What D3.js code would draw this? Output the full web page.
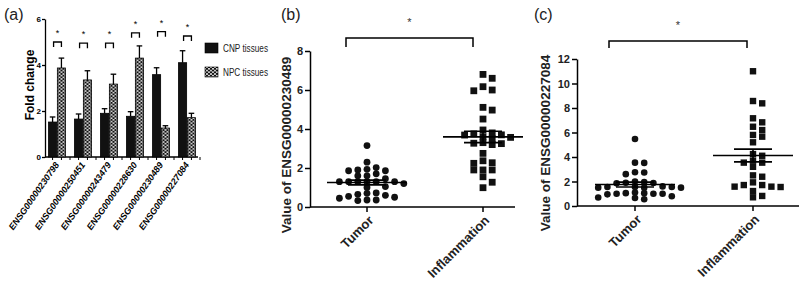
<!DOCTYPE html>
<html>
<head>
<meta charset="utf-8">
<script src="https://cdn.jsdelivr.net/npm/d3@7"></script>
<style>
  body { margin: 0; background: #fff; }
  svg { display: block; font-family: "Liberation Sans", Arial, sans-serif; }
</style>
</head>
<body>
<script>
// ---- panel (a) data ----
const genes = ["ENSG00000230798", "ENSG00000250451", "ENSG00000243479",
               "ENSG00000228630", "ENSG00000230489", "ENSG00000227084"];
const tissues = ["CNP tissues", "NPC tissues"];
const cnpFold = [1.52, 1.65, 1.9, 1.77, 3.58, 4.1];
const cnpSem  = [0.22, 0.22, 0.2, 0.2, 0.3, 0.52];
const npcFold = [3.87, 3.35, 3.17, 4.3, 1.26, 1.71];
const npcSem  = [0.43, 0.4, 0.43, 0.53, 0.1, 0.19];
const sigLevel = [5.0, 4.95, 4.95, 5.4, 5.45, 5.26];
const foldTicks = [0, 2, 4, 6];

// ---- panels (b) and (c) data ----
const groups = ["Tumor", "Inflammation"];
const tumorB = [3.15, 2.3, 2.02, 1.93, 1.9, 1.86, 1.86, 1.7, 1.6, 1.6, 1.45,
                1.3, 1.3, 1.3, 1.3, 1.3, 1.3, 1.2, 1.05, 1.0,
                0.72, 0.7, 0.65, 0.6, 0.55, 0.5, 0.45, 0.36, 0.33, 0.36];
const inflamB = [6.8, 6.6, 6.17, 5.96, 6.0, 5.11, 4.97, 4.51,
                 3.95, 3.8, 3.75, 3.7, 3.69, 3.6, 3.57, 3.5, 3.3, 3.27, 3.25, 3.2,
                 2.75, 2.37, 2.24, 2.27, 1.9, 1.9, 1.9, 1.55, 1.27, 0.99];
const tumorC = [5.47, 3.54, 3.52, 2.76, 2.74, 2.6, 2.0, 1.95, 1.9, 1.88, 1.85,
                1.6, 1.55, 1.55, 1.5, 1.5, 1.5, 1.55, 1.1, 1.05, 1.0, 1.0, 1.05,
                0.95, 1.0, 0.7, 0.55, 0.65, 0.8];
const inflamC = [11.0, 8.57, 8.38, 7.16, 6.83, 6.47, 6.2, 5.8, 5.66, 5.2,
                 4.24, 4.1, 3.7, 3.54, 3.54, 3.2, 2.5, 2.39, 1.93, 1.71, 1.71,
                 1.58, 1.58, 1.55, 1.22, 0.82, 0.71];
const ticksB = [0, 2, 4, 6, 8];
const ticksC = [0, 2, 4, 6, 8, 10, 12];

const svg = d3.select("body").append("svg")
  .attr("width", 799).attr("height", 284);

const defs = svg.append("defs");
const pat = defs.append("pattern").attr("id", "chk")
  .attr("patternUnits", "userSpaceOnUse").attr("width", 4).attr("height", 3.4);
pat.append("rect").attr("width", 4).attr("height", 3.4).attr("fill", "#111");
pat.append("circle").attr("cx", 1).attr("cy", 0.85).attr("r", 0.95).attr("fill", "#fff");
pat.append("circle").attr("cx", 3).attr("cy", 2.55).attr("r", 0.95).attr("fill", "#fff");

function panelLetter(txt, x, y) {
  svg.append("text").attr("x", x).attr("y", y)
    .attr("font-size", 16).attr("fill", "#222").text(txt);
}

// ================= panel (a) =================
(function () {
  const x0 = d3.scaleBand().domain(genes).range([44, 200])
    .paddingInner(0.346).paddingOuter(0.173);
  const x1 = d3.scaleBand().domain(tissues).range([0, x0.bandwidth()]).paddingInner(0.08);
  const y = d3.scaleLinear().domain([0, 6]).range([157, 19]);
  const g = svg.append("g");

  panelLetter("(a)", 4, 20);

  const yAxis = g.append("g").attr("transform", "translate(45,0)")
    .call(d3.axisLeft(y).tickValues(foldTicks).tickFormat(d3.format("d"))
      .tickSize(3).tickSizeOuter(0).tickPadding(1));
  yAxis.selectAll("text").attr("font-size", 8).attr("font-weight", "bold");
  yAxis.selectAll("path,line").attr("stroke-width", 1.3);

  g.append("text")
    .attr("transform", `translate(34,${(y(0) + y(6)) / 2 - 3}) rotate(-90)`)
    .attr("text-anchor", "middle").attr("font-size", 12).attr("font-weight", "bold")
    .text("Fold change");

  // x axis line + ticks
  g.append("line").attr("x1", 45).attr("x2", 198).attr("y1", y(0)).attr("y2", y(0))
    .attr("stroke", "#000").attr("stroke-width", 1.3);
  const tickXs = [];
  genes.forEach(gn => {
    tissues.forEach(t => tickXs.push(x0(gn) + x1(t) + x1.bandwidth() / 2));
    tickXs.push(x0(gn) + x0.bandwidth() + x0.step() * x0.paddingInner() / 2);
  });
  g.selectAll(".xt").data(tickXs).join("line")
    .attr("x1", d => d).attr("x2", d => d).attr("y1", y(0)).attr("y2", y(0) + 3)
    .attr("stroke", "#000").attr("stroke-width", 1);

  const rows = genes.map((gn, i) => ({
    gene: gn,
    bars: [
      { key: tissues[0], v: cnpFold[i], e: cnpSem[i] },
      { key: tissues[1], v: npcFold[i], e: npcSem[i] }
    ],
    sig: sigLevel[i]
  }));

  const grp = g.selectAll(".grp").data(rows).join("g")
    .attr("transform", d => `translate(${x0(d.gene)},0)`);

  grp.selectAll(".err").data(d => d.bars).join("g").each(function (b) {
    const cx = x1(b.key) + x1.bandwidth() / 2;
    const s = d3.select(this);
    s.append("line").attr("x1", cx).attr("x2", cx).attr("y1", y(b.v)).attr("y2", y(b.v + b.e))
      .attr("stroke", "#000").attr("stroke-width", 1.3);
    s.append("line").attr("x1", cx - 2.8).attr("x2", cx + 2.8)
      .attr("y1", y(b.v + b.e)).attr("y2", y(b.v + b.e))
      .attr("stroke", "#000").attr("stroke-width", 1.3);
  });

  grp.selectAll("rect").data(d => d.bars).join("rect")
    .attr("x", b => x1(b.key)).attr("width", x1.bandwidth())
    .attr("y", b => y(b.v)).attr("height", b => y(0) - y(b.v))
    .attr("fill", (b, i) => i === 0 ? "#111" : "url(#chk)")
    .attr("stroke", "#000").attr("stroke-width", 0.8);

  // significance brackets
  grp.each(function (d) {
    const s = d3.select(this);
    const xa = x1(tissues[0]) + x1.bandwidth() / 2 + 1;
    const xb = x1(tissues[1]) + x1.bandwidth() / 2;
    const yt = y(d.sig);
    s.append("path").attr("d", `M${xa},${yt + 5}V${yt}H${xb}V${yt + 5}`)
      .attr("fill", "none").attr("stroke", "#000").attr("stroke-width", 1.3);
    s.append("text").attr("x", (xa + xb) / 2).attr("y", yt - 6)
      .attr("text-anchor", "middle").attr("font-size", 9).text("*");
  });

  // rotated gene labels
  g.selectAll(".gl").data(genes).join("text")
    .attr("transform", d => `translate(${x0(d) + x0.bandwidth() / 2},${y(0) + 6}) rotate(-55)`)
    .attr("text-anchor", "end").attr("dy", "0.35em")
    .attr("font-size", 9).attr("font-weight", "bold").attr("font-style", "italic")
    .text(d => d);

  // legend
  const lg = g.append("g");
  tissues.forEach((t, i) => {
    lg.append("rect").attr("x", 205).attr("y", 43 + i * 24).attr("width", 13).attr("height", 10)
      .attr("fill", i === 0 ? "#111" : "url(#chk)").attr("stroke", "#000").attr("stroke-width", 0.6);
    lg.append("text").attr("x", 223).attr("y", 48 + i * 24).attr("dy", "0.35em")
      .attr("font-size", 10.5).attr("fill", "#222")
      .attr("textLength", 45).attr("lengthAdjust", "spacingAndGlyphs").text(t);
  });
})();

// ================= panels (b), (c) =================
// Prism-like scatter: each point goes to the column nearest the centre
// where no other point sits closer than minDy vertically
function swarm(values, y, cx, step, minDy) {
  const cols = new Map();
  const out = [];
  values.slice().sort((a, b) => b - a).forEach(v => {
    const py = y(v);
    for (let k = 0; ; k++) {
      const c = k === 0 ? 0 : (k % 2 ? 1 : -1) * Math.ceil(k / 2);
      const taken = cols.get(c) || [];
      if (taken.every(q => Math.abs(q - py) >= minDy)) {
        taken.push(py);
        cols.set(c, taken);
        out.push({ x: cx + c * step, y: py, v });
        break;
      }
    }
  });
  return out;
}

function dotPanel(o) {
  const g = svg.append("g");
  const y = d3.scaleLinear().domain([0, o.max]).range([o.bottom, o.top]);
  const x = d3.scalePoint().domain(groups).range(o.centers);

  panelLetter(o.letter, o.letterX, 20);

  const yAxis = g.append("g").attr("transform", `translate(${o.axisX},0)`)
    .call(d3.axisLeft(y).tickValues(o.ticks).tickSize(5).tickSizeOuter(0).tickPadding(2));
  yAxis.selectAll("text").attr("font-size", 11).attr("font-weight", "bold").attr("fill", "#222");
  yAxis.selectAll("path,line").attr("stroke-width", 1.5);

  g.append("text")
    .attr("transform", `translate(${o.labelX},${o.labelY}) rotate(-90)`)
    .attr("text-anchor", "middle").attr("font-size", 13.5).attr("font-weight", "bold")
    .attr("fill", "#222").text(o.ylabel);

  g.append("line").attr("x1", o.axisX).attr("x2", o.axisEnd).attr("y1", o.bottom).attr("y2", o.bottom)
    .attr("stroke", "#000").attr("stroke-width", 1.5);
  g.selectAll(".xt").data(groups).join("line")
    .attr("x1", d => x(d)).attr("x2", d => x(d)).attr("y1", o.bottom).attr("y2", o.bottom + 5)
    .attr("stroke", "#000").attr("stroke-width", 1.5);
  g.selectAll(".xl").data(groups).join("text")
    .attr("transform", d => `translate(${x(d) + 4},${o.bottom + 11}) rotate(-45)`)
    .attr("text-anchor", "end").attr("dy", "0.35em")
    .attr("font-size", 13).attr("font-weight", "bold").attr("fill", "#222")
    .text(d => d);

  // tumor: circles
  const tp = swarm(o.tumor, y, x(groups[0]), 9.2, 5.5);
  g.selectAll(".tp").data(tp).join("circle")
    .attr("cx", d => d.x).attr("cy", d => d.y).attr("r", o.r).attr("fill", "#111");
  // inflammation: squares
  const ip = swarm(o.inflam, y, x(groups[1]), 9.2, 5.5);
  g.selectAll(".ip").data(ip).join("rect")
    .attr("x", d => d.x - o.sq / 2).attr("y", d => d.y - o.sq / 2)
    .attr("width", o.sq).attr("height", o.sq).attr("fill", "#111");

  // mean +/- SEM
  [o.tumor, o.inflam].forEach((vals, i) => {
    const cx = x(groups[i]);
    const m = d3.mean(vals);
    const se = d3.deviation(vals) / Math.sqrt(vals.length);
    const line = (x1, x2, yy) => g.append("line").attr("x1", x1).attr("x2", x2)
      .attr("y1", yy).attr("y2", yy).attr("stroke", "#000").attr("stroke-width", 1.6);
    line(cx - 40, cx + 40, y(m));
    line(cx - 19, cx + 19, y(m + se));
    line(cx - 19, cx + 19, y(m - se));
    g.append("line").attr("x1", cx).attr("x2", cx).attr("y1", y(m - se)).attr("y2", y(m + se))
      .attr("stroke", "#000").attr("stroke-width", 1.6);
  });

  // significance bracket
  const xa = x(groups[0]) + o.brL, xb = x(groups[1]) + o.brR;
  g.append("path").attr("d", `M${xa},${o.brTop + o.brLeg}V${o.brTop}H${xb}V${o.brTop + o.brLeg}`)
    .attr("fill", "none").attr("stroke", "#000").attr("stroke-width", 1.5);
  g.append("text").attr("x", (xa + xb) / 2).attr("y", o.brTop - 12)
    .attr("text-anchor", "middle").attr("font-size", 11).attr("fill", "#333").text("*");
}

dotPanel({
  letter: "(b)", letterX: 281,
  tumor: tumorB, inflam: inflamB, max: 8, ticks: ticksB,
  top: 51, bottom: 207, axisX: 310, axisEnd: 515, centers: [367, 483],
  ylabel: "Value of ENSG00000230489", labelX: 291, labelY: 145,
  r: 3.4, sq: 6.8,
  brTop: 38, brLeg: 9, brL: -21, brR: -10
});

dotPanel({
  letter: "(c)", letterX: 534,
  tumor: tumorC, inflam: inflamC, max: 12, ticks: ticksC,
  top: 59, bottom: 206, axisX: 577, axisEnd: 799, centers: [635, 753],
  ylabel: "Value of ENSG00000227084", labelX: 550, labelY: 143,
  r: 3.3, sq: 6.4,
  brTop: 41, brLeg: 7, brL: -26, brR: -6
});
</script>
</body>
</html>
